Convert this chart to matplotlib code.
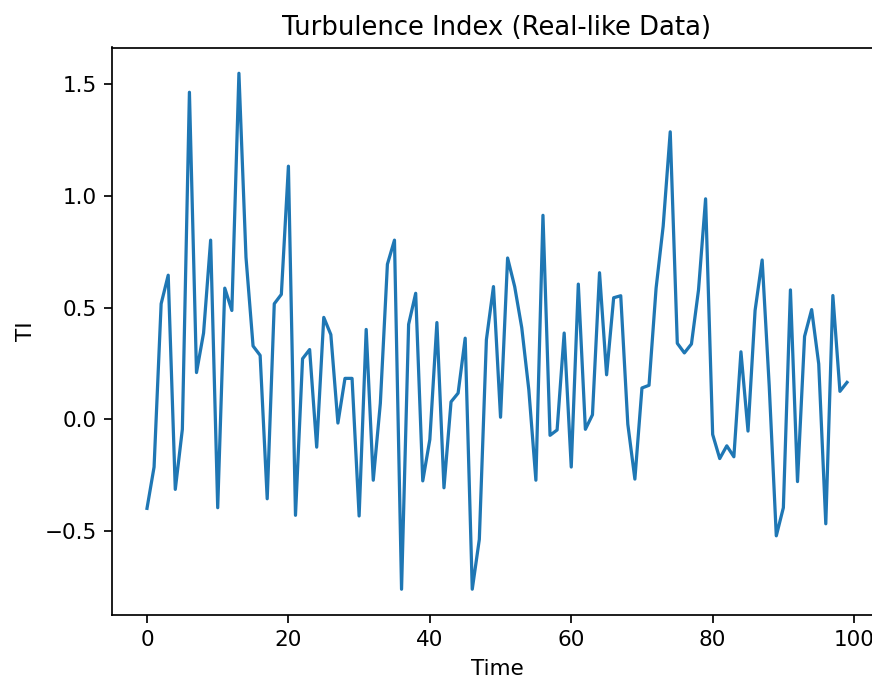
import matplotlib
matplotlib.use("Agg")
import matplotlib.pyplot as plt

# turbulence index readings, one per time step
time = list(range(100))
ti = [-0.398, -0.213, 0.518, 0.646, -0.313, -0.044, 1.465, 0.210, 0.387, 0.803,
      -0.395, 0.588, 0.488, 1.550, 0.726, 0.329, 0.287, -0.355, 0.518, 0.560,
      1.134, -0.429, 0.272, 0.313, -0.124, 0.457, 0.380, -0.016, 0.184, 0.184,
      -0.432, 0.403, -0.272, 0.072, 0.695, 0.803, -0.760, 0.426, 0.565, -0.275,
      -0.090, 0.434, -0.306, 0.079, 0.118, 0.364, -0.760, -0.537, 0.357, 0.595,
      0.010, 0.723, 0.595, 0.411, 0.133, -0.272, 0.914, -0.071, -0.047, 0.387,
      -0.213, 0.606, -0.044, 0.021, 0.657, 0.200, 0.545, 0.554, -0.021, -0.267,
      0.141, 0.153, 0.588, 0.865, 1.288, 0.341, 0.298, 0.338, 0.580, 0.988,
      -0.067, -0.175, -0.118, -0.167, 0.303, -0.052, 0.488, 0.714, 0.150, -0.521,
      -0.395, 0.580, -0.278, 0.372, 0.492, 0.249, -0.467, 0.555, 0.126, 0.166]

DPI = 155
W, H = 873, 681
fig = plt.figure(figsize=(W / DPI, H / DPI), dpi=DPI)
# the reference is cropped on the right, so the axes run past the edge
ax = fig.add_axes([112 / W, (H - 615) / H, 770 / W, (615 - 47.5) / H])
ax.plot(time, ti)
ax.set_title("Turbulence Index (Real-like Data)")
ax.set_xlabel("Time")
ax.set_ylabel("TI")

fig.savefig("out.png", dpi=DPI)
